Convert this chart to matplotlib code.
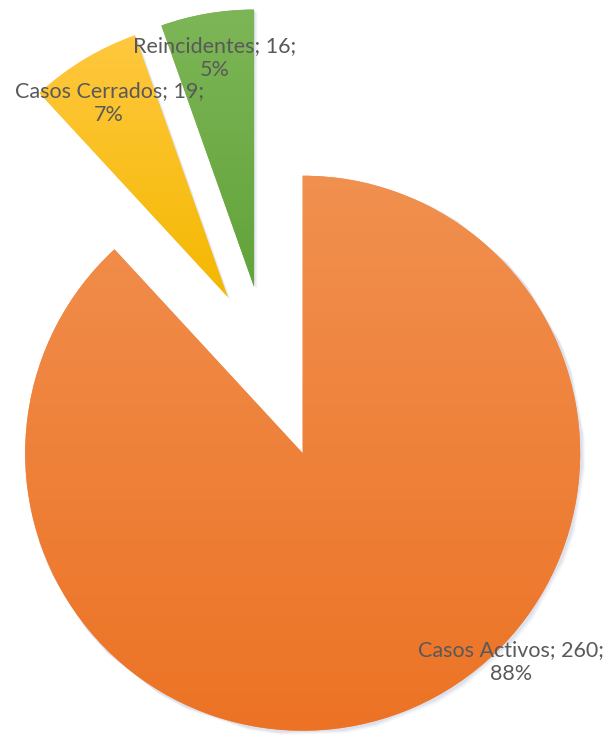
import numpy as np
import matplotlib
matplotlib.use("Agg")
import matplotlib.pyplot as plt
from matplotlib.colors import LinearSegmentedColormap

# ---- data ----
categories = ["Casos Activos", "Casos Cerrados", "Reincidentes"]
values = [260, 19, 16]
pct_labels = ["88%", "7%", "5%"]

# ---- style ----
top_colors = ["#F1904F", "#FFC83F", "#7DB657"]
bottom_colors = ["#EC7325", "#F4B800", "#62A33A"]
explode = [0.353, 0.274, 0.274]
label_pos = [(0.879, -1.081), (-0.569, 0.933), (-0.187, 1.095)]
text_color = "#595959"

plt.rcParams['font.family'] = ['Lato', 'DejaVu Sans']

W, H, dpi = 608, 736, 100
fig = plt.figure(figsize=(W / dpi, H / dpi), dpi=dpi)
ax = fig.add_axes([0, 0, 1, 1])
R = 277.5
cx, cy = 267.0, 362.0

wedges, _ = ax.pie(values, startangle=90, counterclock=False, explode=explode,
                   radius=1.0, colors=top_colors,
                   wedgeprops=dict(linewidth=0))

ax.set_aspect('auto')
ax.axis('off')

# soft shadows + gradients
for w, ct, cb in zip(wedges, top_colors, bottom_colors):
    path = w.get_path()
    verts = w.get_patch_transform().transform(path.vertices)
    for off, a in [(0.012, 0.05), (0.008, 0.07), (0.004, 0.09)]:
        sh = matplotlib.patches.Polygon(verts + np.array([off, -off]), closed=True,
                                        facecolor="#6070a0", alpha=a, lw=0, zorder=0.5)
        ax.add_patch(sh)
    x0, y0 = verts.min(axis=0)
    x1, y1 = verts.max(axis=0)
    cmap = LinearSegmentedColormap.from_list("g", [cb, ct])
    grad = np.linspace(0, 1, 256).reshape(-1, 1)
    im = ax.imshow(grad, extent=[x0, x1, y0, y1], origin='lower', cmap=cmap,
                   aspect='auto', zorder=2, interpolation='bilinear')
    im.set_clip_path(w)
    w.set_zorder(1)

ax.set_xlim((0 - cx) / R, (W - cx) / R)
ax.set_ylim((cy - H) / R, (cy - 0) / R)

for cat, v, p, (lx, ly) in zip(categories, values, pct_labels, label_pos):
    ax.text(lx, ly, f"{cat}; {v};\n{p}", ha='center', va='center',
            fontsize=15.5, color=text_color, linespacing=1.2, zorder=5)

fig.savefig("out.png", dpi=dpi, facecolor='white')
